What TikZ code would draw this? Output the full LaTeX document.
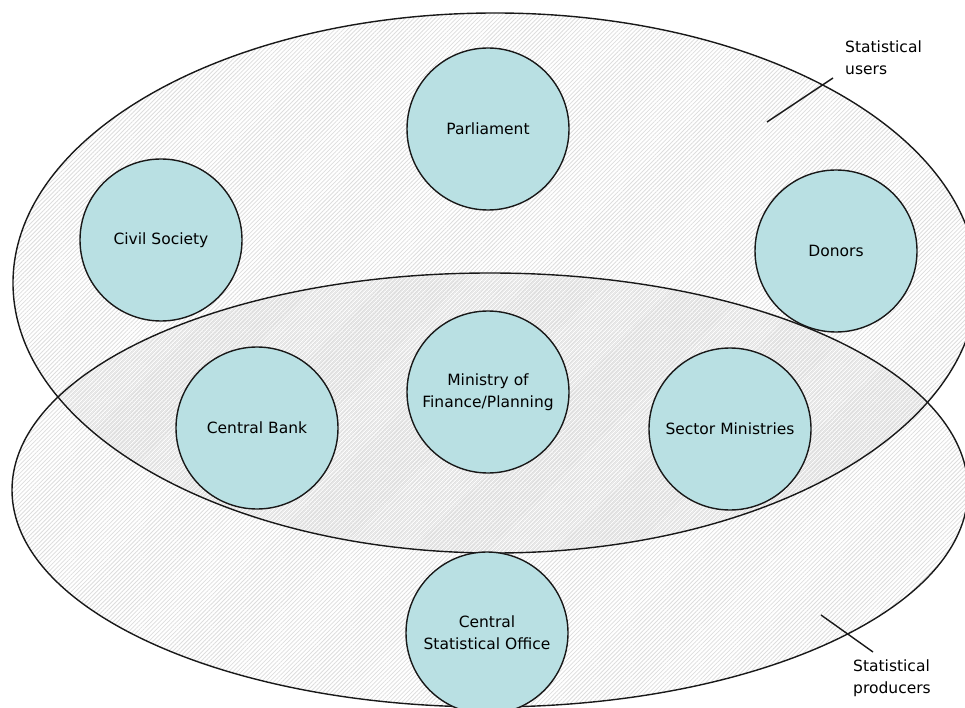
\documentclass[tikz,border=0pt]{standalone}
\usepackage{fontspec}
\setmainfont{DejaVu Sans}
\usetikzlibrary{patterns.meta}
\definecolor{bubble}{HTML}{B9E0E3}
\definecolor{hatch}{HTML}{DDDDDD}
\begin{document}
\begin{tikzpicture}[x=1pt,y=-1pt,
  actor/.style={circle,draw=black!90,line width=1.4pt,fill=bubble,minimum size=162pt,inner sep=0pt,align=center,font=\fontsize{15.5}{22}\selectfont},
  grouplabel/.style={anchor=north west,inner sep=0pt,align=left,font=\fontsize{15.5}{21.5}\selectfont},
  outline/.style={draw=black!90,line width=1.4pt},
  leader/.style={draw=black!90,line width=1.4pt}]
\useasboundingbox (0,0) rectangle (965,708);
\fill[white] (0,0) rectangle (965,708);
% hatched ellipses
\path[pattern={Lines[angle=45,distance=3pt,line width=0.8pt]},pattern color=hatch]
  (495,283) ellipse [x radius=482,y radius=270];
\path[pattern={Lines[angle=45,distance=3pt,line width=0.8pt,xshift=1.5pt]},pattern color=hatch]
  (490,490) ellipse [x radius=478,y radius=217];
\path[outline] (495,283) ellipse [x radius=482,y radius=270];
\path[outline] (490,490) ellipse [x radius=478,y radius=217];
% actors
\node[actor] (parl) at (488,129) {Parliament};
\node[actor] (civil) at (161,240) {Civil Society};
\node[actor] (donors) at (836,251) {Donors};
\node[actor] (bank) at (257,428) {Central Bank};
\node[actor] (mof) at (488,392) {Ministry of\\Finance/Planning};
\node[actor] (sector) at (730,429) {Sector Ministries};
\node[actor] (cso) at (487,633) {Central\\Statistical Office};
% group labels
\node[grouplabel] (users) at (845,41) {Statistical\\users};
\node[grouplabel] (producers) at (853,660) {Statistical\\producers};
\coordinate (u1) at (767,122);
\coordinate (u2) at (833,78);
\coordinate (p1) at (821,615);
\coordinate (p2) at (873,652);
\draw[leader] (u1) -- (u2);
\draw[leader] (p1) -- (p2);
\end{tikzpicture}
\end{document}
